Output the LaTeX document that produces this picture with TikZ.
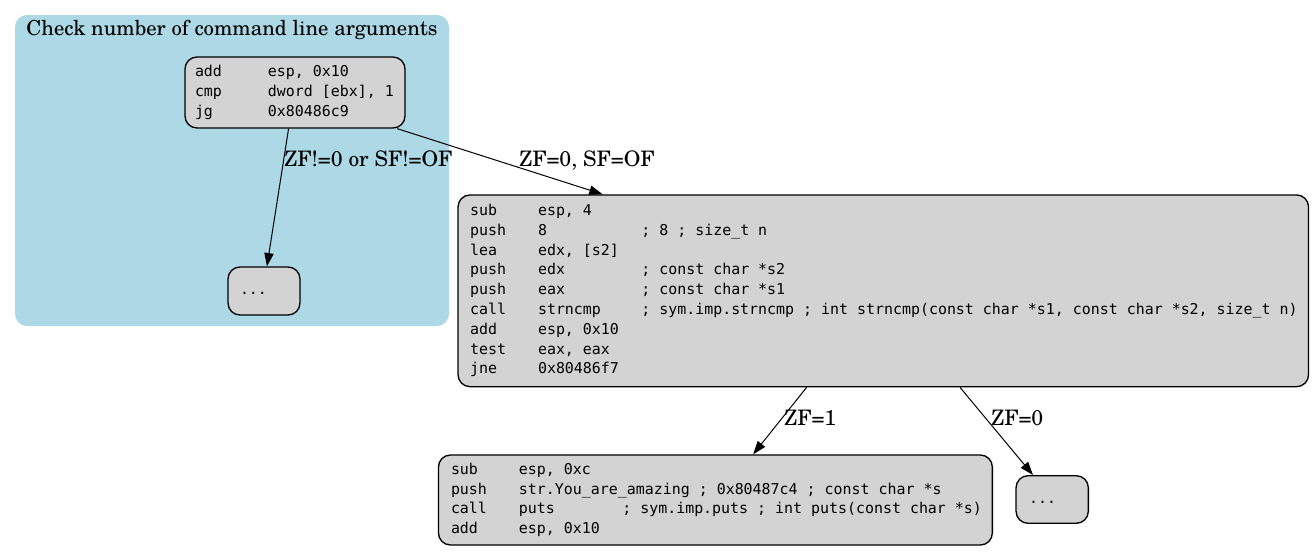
\documentclass[tikz,border=0pt]{standalone}
\usepackage{fontspec}
\newfontfamily\codefont{DejaVu Sans Mono}
\newfontfamily\lblfont{TeX Gyre Schola}
\usetikzlibrary{arrows.meta,calc}
\definecolor{clusterblue}{HTML}{ADD8E6}
\definecolor{boxgray}{HTML}{D3D3D3}
\newlength\cw
\newcommand\codeset{\fontsize{11.2pt}{14.85pt}\selectfont\codefont\frenchspacing
  \settowidth{\cw}{0}}
\newcommand\kk{\hspace*{\cw}}
\newcommand\lblset{\fontsize{16pt}{19pt}\selectfont\lblfont}
\newcommand\ttlset{\fontsize{15.5pt}{18pt}\selectfont\lblfont}
\newcommand\cl[1]{\mbox{\strut#1}}
\newcommand\ma[1]{\makebox[54.75pt][l]{#1}}
\newcommand\mb[1]{\makebox[51pt][l]{#1}}
\newcommand\ob[1]{\makebox[77.5pt][l]{#1}}
\begin{document}
\begin{tikzpicture}[x=0.75pt,y=-0.75pt,
  cluster/.style={draw=none,fill=clusterblue,rounded corners=9pt,inner sep=0pt},
  codebox/.style={draw=black,line width=1pt,fill=boxgray,rounded corners=9pt,
    align=left,inner ysep=0pt,font=\codeset},
  lbl/.style={inner sep=0pt,font=\lblset},
  edge/.style={draw=black,line width=0.75pt,-{Triangle[length=10pt,width=7pt]}}]
\useasboundingbox (0,0) rectangle (1315,551);
\fill[white] (0,0) rectangle (1315,551);
% cluster
\node[cluster,minimum width=325.5pt,minimum height=233.25pt] (cl) at (232,170.5) {};
\node[lbl,font=\ttlset,anchor=base] (title) at (232,35.7) {Check number of command line arguments};
% nodes
\node[codebox,inner xsep=7.5pt,text width=150pt,minimum height=53.25pt] (t) at (295,92.5)
  {\cl{\ma{add}esp,\kk0x10}\\\cl{\ma{cmp}dword\kk[ebx],\kk1}\\\cl{\ma{jg}0x80486c9}};
\node[codebox,inner xsep=9pt,text width=36pt,minimum height=36pt] (d1) at (264,291)
  {\cl{...}};
\node[codebox,inner xsep=9pt,text width=619.9pt,minimum height=143.8pt] (m) at (883.3,290.8)
  {\cl{\mb{sub}esp,\kk4}\\
   \cl{\mb{push}\ob{8};\kk8\kk;\kk size\_t\kk n}\\
   \cl{\mb{lea}edx,\kk[s2]}\\
   \cl{\mb{push}\ob{edx};\kk const\kk char\kk*s2}\\
   \cl{\mb{push}\ob{eax};\kk const\kk char\kk*s1}\\
   \cl{\mb{call}\ob{strncmp};\kk sym.imp.strncmp\kk;\kk int\kk strncmp(const\kk char\kk*s1,\kk const\kk char\kk*s2,\kk size\_t\kk n)}\\
   \cl{\mb{add}esp,\kk0x10}\\
   \cl{\mb{test}eax,\kk eax}\\
   \cl{\mb{jne}0x80486f7}};
\node[codebox,inner xsep=9.4pt,text width=396.6pt,minimum height=67.5pt] (b) at (715.4,500)
  {\cl{\mb{sub}esp,\kk0xc}\\
   \cl{\mb{push}str.You\_are\_amazing\kk;\kk0x80487c4\kk;\kk const\kk char\kk*s}\\
   \cl{\mb{call}\ob{puts};\kk sym.imp.puts\kk;\kk int\kk puts(const\kk char\kk*s)}\\
   \cl{\mb{add}esp,\kk0x10}};
\node[codebox,inner xsep=9.75pt,text width=34.7pt,minimum height=35.7pt] (d2) at (1052.2,499.5)
  {\cl{...}};
% edges
\draw[edge] ($(t.south west)!0.471!(t.south east)$) -- ($(d1.north west)!0.54!(d1.north east)$);
\draw[edge] ($(t.south west)!0.962!(t.south east)$) -- ($(m.north west)!0.1705!(m.north east)$);
\draw[edge] ($(m.south west)!0.41!(m.south east)$) -- ($(b.north west)!0.568!(b.north east)$);
\draw[edge] ($(m.south west)!0.59!(m.south east)$) -- ($(d2.north west)!0.239!(d2.north east)$);
% edge labels
\node[lbl,anchor=base west] (l1) at (284,166.7) {ZF!=0 or SF!=OF};
\node[lbl,anchor=base west] (l2) at (519,166.7) {ZF=0, SF=OF};
\node[lbl,anchor=base west] (l3) at (784,425.7) {ZF=1};
\node[lbl,anchor=base west] (l4) at (991,425.7) {ZF=0};
\end{tikzpicture}
\end{document}
